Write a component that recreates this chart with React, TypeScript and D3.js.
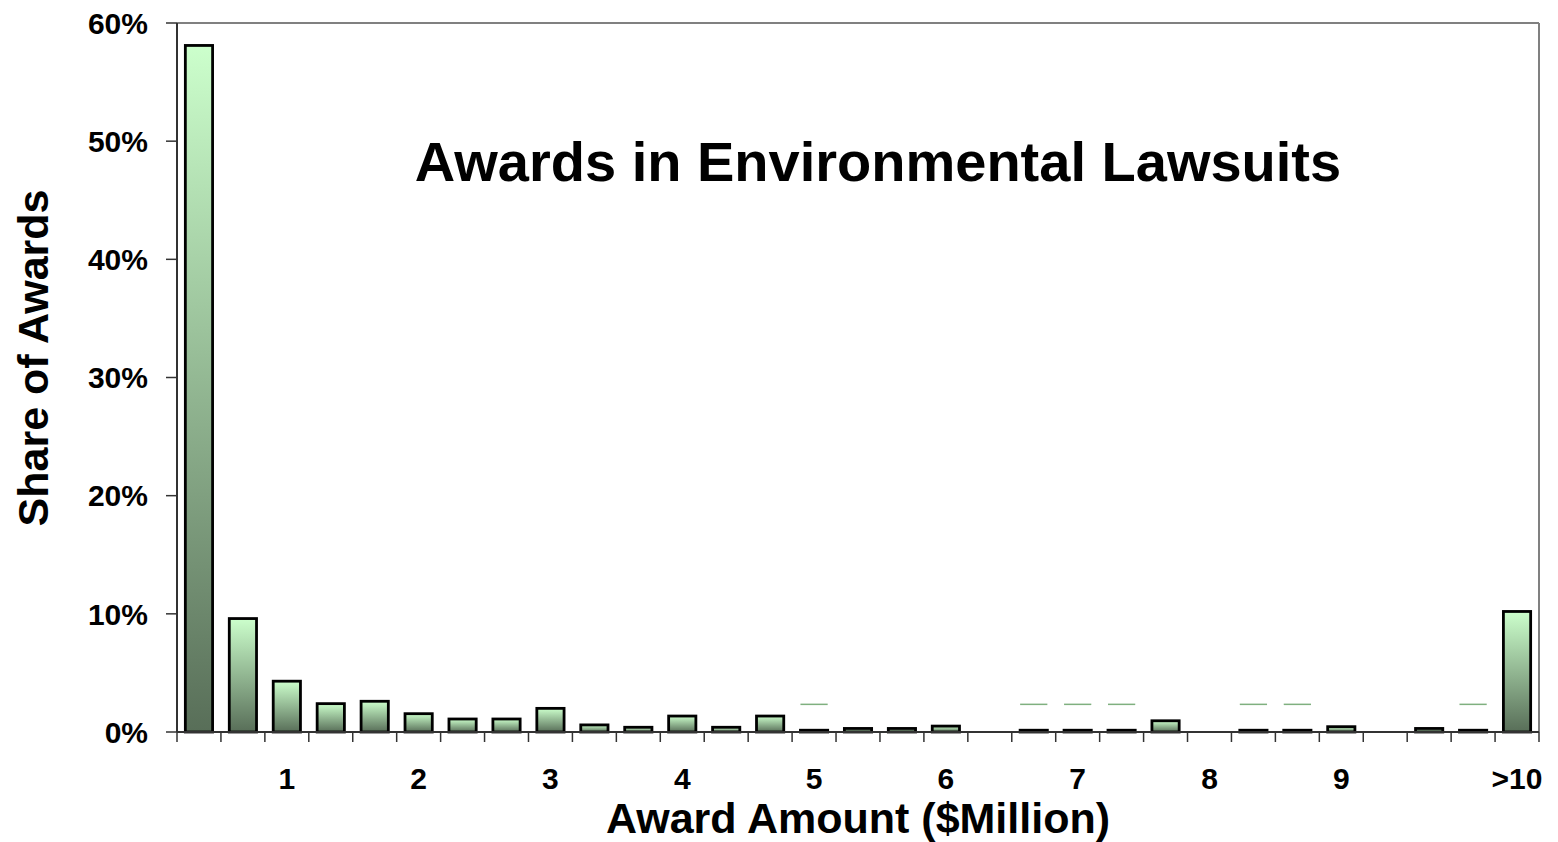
import React from "react";
import * as d3 from "d3";

// Share of awards (%) per 1/3-million bin, 0..10 $M, then >10
const binIndex: number[] = Array.from({ length: 31 }, (_, i) => i);
const shareValues: number[] = [
  58.1, 9.6, 4.3, 2.4, 2.6, 1.55, 1.1, 1.1, 2.0, 0.6,
  0.4, 1.35, 0.4, 1.35, 0.15, 0.3, 0.3, 0.5, 0, 0.15,
  0.15, 0.15, 0.95, 0, 0.15, 0.15, 0.45, 0, 0.3, 0.15,
  10.2,
];
const xTickLabels: { index: number; label: string }[] = [
  { index: 2, label: "1" },
  { index: 5, label: "2" },
  { index: 8, label: "3" },
  { index: 11, label: "4" },
  { index: 14, label: "5" },
  { index: 17, label: "6" },
  { index: 20, label: "7" },
  { index: 23, label: "8" },
  { index: 26, label: "9" },
  { index: 30, label: ">10" },
];
const yTicks: number[] = [0, 10, 20, 30, 40, 50, 60];

const title = "Awards in Environmental Lawsuits";
const xTitle = "Award Amount ($Million)";
const yTitle = "Share of Awards";

const W = 1558;
const H = 842;
const M = { left: 177, right: 1539, top: 23, bottom: 732 };
const FONT = "'Liberation Sans', Arial, sans-serif";

export default function App() {
  const p = 0.38;
  const x = d3
    .scaleBand<number>()
    .domain(binIndex)
    .range([M.left, M.right])
    .paddingInner(p)
    .paddingOuter(p / 2);
  const y = d3.scaleLinear().domain([0, 60]).range([M.bottom, M.top]);
  const step = x.step();
  const slotEdges = d3.range(binIndex.length + 1).map((k) => M.left + k * step);

  return (
    <svg
      width={W}
      height={H}
      style={{ position: "absolute", left: 0, top: 0, background: "#fff" }}
      fontFamily={FONT}
    >
      <defs>
        <linearGradient id="barGrad" x1="0" y1="0" x2="0" y2="1">
          <stop offset="0%" stopColor="#ccffcc" />
          <stop offset="100%" stopColor="#586e58" />
        </linearGradient>
      </defs>

      {/* plot frame: top and right in gray */}
      <line x1={M.left} x2={M.right} y1={M.top} y2={M.top} stroke="#808080" strokeWidth={2} />
      <line x1={M.right} x2={M.right} y1={M.top} y2={M.bottom} stroke="#808080" strokeWidth={2} />

      {/* bars */}
      {shareValues.map((v, i) =>
        v > 0 ? (
          <g key={i}>
            <rect
              x={x(i)!}
              y={y(v)}
              width={x.bandwidth()}
              height={Math.max(0, y(0) - y(v))}
              fill="url(#barGrad)"
              stroke="#000"
              strokeWidth={2.8}
            />
            {v < 0.2 && (
              <line
                x1={x(i)!}
                x2={x(i)! + x.bandwidth()}
                y1={y(2.34)}
                y2={y(2.34)}
                stroke="#7fb07f"
                strokeWidth={1.5}
              />
            )}
          </g>
        ) : null
      )}

      {/* y axis */}
      <line x1={M.left} x2={M.left} y1={M.top} y2={M.bottom} stroke="#333" strokeWidth={2} />
      {yTicks.map((t) => (
        <g key={t}>
          <line x1={M.left - 11} x2={M.left} y1={y(t)} y2={y(t)} stroke="#333" strokeWidth={1.5} />
          <text
            x={148}
            y={y(t)}
            dy="0.36em"
            textAnchor="end"
            fontWeight="bold"
            fontSize={30}
            fill="#000"
          >
            {t}%
          </text>
        </g>
      ))}

      {/* x axis */}
      <line x1={M.left} x2={M.right} y1={M.bottom} y2={M.bottom} stroke="#333" strokeWidth={2} />
      {slotEdges.map((ex, k) => (
        <line key={k} x1={ex} x2={ex} y1={M.bottom} y2={M.bottom + 10} stroke="#333" strokeWidth={1.5} />
      ))}
      {xTickLabels.map((d) => (
        <text
          key={d.label}
          x={x(d.index)! + x.bandwidth() / 2}
          y={789}
          textAnchor="middle"
          fontWeight="bold"
          fontSize={30}
          fill="#000"
        >
          {d.label}
        </text>
      ))}

      {/* titles */}
      <text x={878} y={181} textAnchor="middle" fontWeight="bold" fontSize={56} fill="#000">
        {title}
      </text>
      <text
        x={(M.left + M.right) / 2}
        y={833}
        textAnchor="middle"
        fontWeight="bold"
        fontSize={43}
        fill="#000"
      >
        {xTitle}
      </text>
      <text
        transform={`translate(48, 358) rotate(-90)`}
        textAnchor="middle"
        fontWeight="bold"
        fontSize={43}
        fill="#000"
      >
        {yTitle}
      </text>
    </svg>
  );
}
